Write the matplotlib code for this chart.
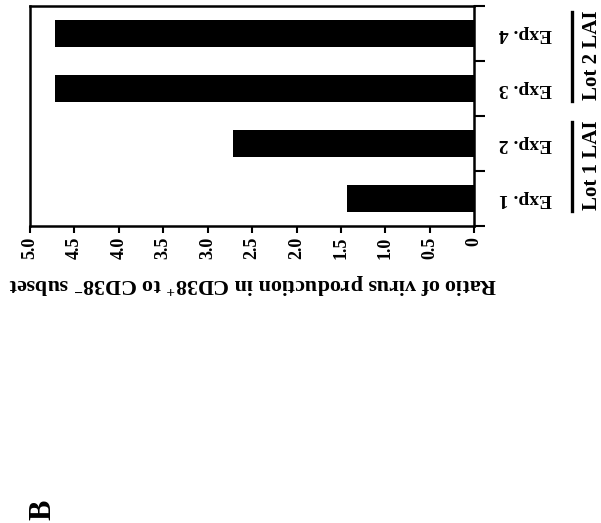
import matplotlib
matplotlib.use("Agg")
import matplotlib.pyplot as plt
import matplotlib.transforms as mtransforms

plt.rcParams['font.family'] = 'Liberation Serif'
plt.rcParams['font.weight'] = 'bold'
plt.rcParams['mathtext.fontset'] = 'custom'
plt.rcParams['mathtext.rm'] = 'Liberation Serif:bold'
plt.rcParams['mathtext.default'] = 'rm'

# ratio of virus production per experiment
experiments = ['Exp. 1', 'Exp. 2', 'Exp. 3', 'Exp. 4']
ratios = [1.43, 2.72, 4.72, 4.72]
lots = ['Lot 1 LAI', 'Lot 2 LAI']
lot_members = [(0, 1), (2, 3)]
xticks = [5.0, 4.5, 4.0, 3.5, 3.0, 2.5, 2.0, 1.5, 1.0, 0.5, 0]
xtick_labels = ['5.0', '4.5', '4.0', '3.5', '3.0', '2.5', '2.0', '1.5', '1.0', '0.5', '0']

fig = plt.figure(figsize=(6.01, 5.23), dpi=100)
ax = fig.add_axes([0.050, 0.568, 0.739, 0.4205])

pos = list(range(len(experiments)))
ax.barh(pos, ratios, height=0.48, color='black')

ax.set_xlim(5.0, 0)
ax.set_ylim(-0.5, 3.5)
ax.set_xticks(xticks)
ax.set_xticklabels(xtick_labels)
ax.tick_params(axis='x', labelrotation=90, labelsize=13, length=5, width=1.5,
               direction='out', pad=3)

ax.yaxis.tick_right()
ax.set_yticks([p - 0.5 for p in pos] + [pos[-1] + 0.5])
ax.set_yticklabels([])
ax.tick_params(axis='y', length=8, width=1.5, direction='out')

for s in ax.spines.values():
    s.set_linewidth(1.8)

ax.set_xlabel('Ratio of virus production in CD38$^{+}$ to CD38$^{-}$ subset',
              rotation=180, fontsize=15.8, fontweight='bold', labelpad=8)

trans = mtransforms.blended_transform_factory(ax.transAxes, ax.transData)
for p, name in zip(pos, experiments):
    ax.text(1.115, p, name, rotation=180, ha='center', va='center',
            fontsize=14, transform=trans)

# lot brackets and names
for name, (lo, hi) in zip(lots, lot_members):
    ax.plot([1.221, 1.221], [lo - 0.23, hi + 0.39], color='black', lw=2.4,
            transform=trans, clip_on=False)
    ax.text(1.277, (lo + hi) / 2 + 0.1, name, rotation=90, rotation_mode='anchor',
            ha='center', va='baseline', fontsize=15, transform=trans)

fig.text(0.072, 0.025, 'B', rotation=90, ha='center', va='center', fontsize=22)

fig.savefig('out.png', dpi=100)
